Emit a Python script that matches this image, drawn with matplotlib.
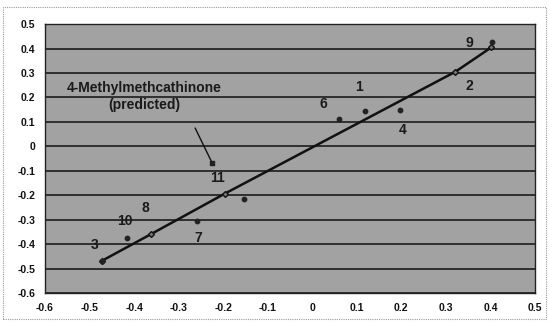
import matplotlib
matplotlib.use("Agg")
import matplotlib.pyplot as plt
from matplotlib.patches import Rectangle

plt.rcParams['font.family'] = ['Liberation Sans', 'DejaVu Sans']

# Observed compounds (numbered) and the separate unlabeled point
obs_ids = ["3", "10", "7", "5", "6", "1", "4", "9"]
obs_x = [-0.473, -0.416, -0.258, -0.153, 0.061, 0.118, 0.196, 0.404]
obs_y = [-0.469, -0.374, -0.306, -0.216, 0.111, 0.145, 0.148, 0.428]

# Points lying on the fitted line
fit_x = [-0.473, -0.362, -0.196, 0.321, 0.402]
fit_y = [-0.469, -0.359, -0.193, 0.305, 0.405]

# Predicted value for 4-methylmethcathinone
pred_x = -0.225
pred_y = -0.067

# Number labels and their anchor points
label_txt = ["3", "10", "8", "7", "11", "6", "1", "4", "9", "2"]
label_x = [-0.488, -0.420, -0.375, -0.256, -0.213, 0.025, 0.106, 0.202, 0.353, 0.353]
label_y = [-0.404, -0.306, -0.253, -0.375, -0.130, 0.173, 0.242, 0.066, 0.422, 0.246]

x_ticks = [-0.6, -0.5, -0.4, -0.3, -0.2, -0.1, 0, 0.1, 0.2, 0.3, 0.4, 0.5]
y_ticks = [-0.6, -0.5, -0.4, -0.3, -0.2, -0.1, 0, 0.1, 0.2, 0.3, 0.4, 0.5]

fig = plt.figure(figsize=(5.49, 3.22), dpi=100)
fig.patch.set_facecolor("white")
# dotted frame around the chart
fig.patches.append(Rectangle((0.006, 0.01), 0.988, 0.968, transform=fig.transFigure,
                             fill=False, edgecolor="#9a9a9a", linewidth=0.8,
                             linestyle=(0, (1, 1))))

ax = fig.add_axes([0.082, 0.090, 0.8925, 0.835])
ax.set_facecolor("#a2a2a2")
ax.set_xlim(-0.6, 0.5)
ax.set_ylim(-0.6, 0.5)
ax.set_xticks(x_ticks)
ax.set_yticks(y_ticks)
ax.set_xticklabels(["%g" % v for v in x_ticks])
ax.set_yticklabels(["%g" % v for v in y_ticks])
ax.tick_params(length=0, labelsize=7.5, pad=7, colors="#111111")
for lbl in ax.get_xticklabels() + ax.get_yticklabels():
    lbl.set_fontweight("bold")
ax.grid(axis="y", color="#111111", linewidth=1.1)
ax.set_axisbelow(True)
for s in ax.spines.values():
    s.set_color("#222222")
    s.set_linewidth(1.0)

ax.plot(fit_x, fit_y, color="#111111", linewidth=1.8, marker="D", markersize=3,
        markerfacecolor="#777777", markeredgecolor="#111111", zorder=3)
ax.scatter(obs_x, obs_y, s=10, color="#222222", zorder=4)

for t, lx, ly in zip(label_txt, label_x, label_y):
    ax.text(lx, ly, t, fontsize=10, fontweight="bold", color="#1a1a1a",
            ha="center", va="center", zorder=5)

ax.text(-0.378, 0.203, "4-Methylmethcathinone\n(predicted)", ha="center", va="center",
        fontsize=10, fontweight="bold", color="#1a1a1a", linespacing=1.3, zorder=5)
ax.annotate("", xy=(pred_x, pred_y), xytext=(-0.263, 0.075), textcoords="data",
            arrowprops=dict(arrowstyle="-", color="#111111", linewidth=1.0,
                            shrinkA=0, shrinkB=0))
ax.scatter([pred_x], [pred_y], s=9, marker="s", color="#222222", zorder=5)

fig.savefig("out.png", dpi=100)
